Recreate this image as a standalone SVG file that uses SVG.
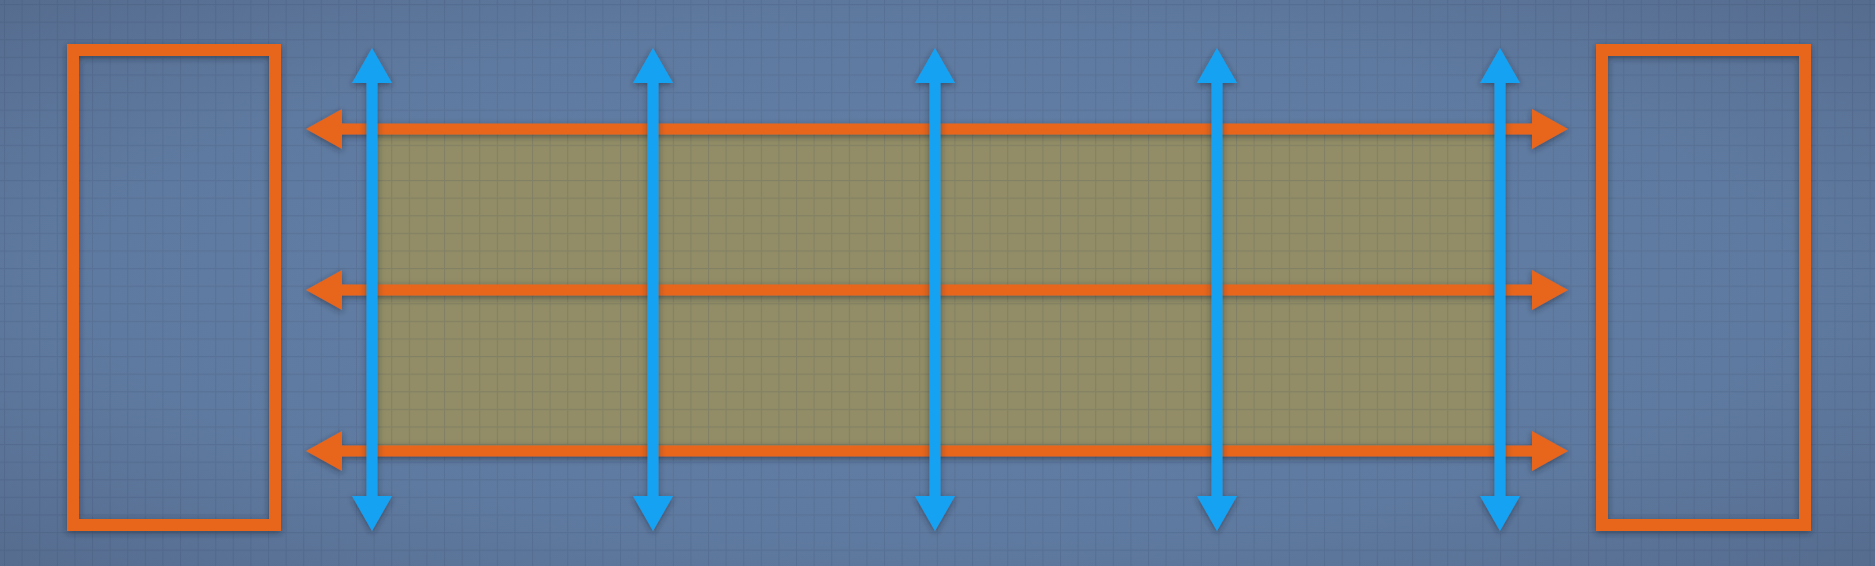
<svg xmlns="http://www.w3.org/2000/svg" width="1875" height="566" viewBox="0 0 1875 566">
<style>
.box{fill:none;stroke:#e8661d;stroke-width:12}
.oarrow{stroke:#e8661d;stroke-width:11;fill:none}
.barrow{stroke:#19a2f2;stroke-width:11;fill:none}
.sh{filter:url(#shadow)}
</style>
<defs>
<radialGradient id="bg" cx="50%" cy="50%" r="75%">
<stop offset="0" stop-color="#6581a8"/>
<stop offset="0.6" stop-color="#5f7aa0"/>
<stop offset="1" stop-color="#546a8c"/>
</radialGradient>
<pattern id="grid" width="17.6" height="17.6" patternUnits="userSpaceOnUse" x="4" y="4">
<path d="M0,0.5 H17.6 M0.5,0 V17.6" stroke="#2c3d5c" stroke-opacity="0.15" stroke-width="1.2" fill="none"/>
</pattern>
<filter id="shadow" x="-20%" y="-20%" width="140%" height="140%">
<feDropShadow dx="0" dy="2" stdDeviation="3" flood-color="#1c2738" flood-opacity="0.55"/>
</filter>
<marker id="oh" markerUnits="userSpaceOnUse" markerWidth="36" markerHeight="40" viewBox="0 0 36 40" refX="1" refY="20" orient="auto-start-reverse">
<path d="M0,0 L36,20 L0,40 z" fill="#e8661d"/>
</marker>
<marker id="bh" markerUnits="userSpaceOnUse" markerWidth="35" markerHeight="40" viewBox="0 0 35 40" refX="1" refY="20" orient="auto-start-reverse">
<path d="M0,0 L35,20 L0,40 z" fill="#19a2f2"/>
</marker>
</defs>
<rect width="1875" height="566" fill="url(#bg)"/>
<g id="center-region">
<rect class="sh" x="372" y="129" width="1128" height="322" fill="#928d66"/>
</g>
<rect width="1875" height="566" fill="url(#grid)"/>
<g id="left-box" class="sh">
<rect class="box" x="73" y="50" width="202" height="475"/>
</g>
<g id="right-box" class="sh">
<rect class="box" x="1602" y="50" width="203" height="475"/>
</g>
<g id="connectors">
<g class="sh">
<line class="oarrow" x1="341" y1="129" x2="1533" y2="129" marker-start="url(#oh)" marker-end="url(#oh)"/>
<line class="oarrow" x1="341" y1="290" x2="1533" y2="290" marker-start="url(#oh)" marker-end="url(#oh)"/>
<line class="oarrow" x1="341" y1="451" x2="1533" y2="451" marker-start="url(#oh)" marker-end="url(#oh)"/>
</g>
<g class="sh">
<line class="barrow" x1="372" y1="82" x2="372" y2="497" marker-start="url(#bh)" marker-end="url(#bh)"/>
<line class="barrow" x1="653" y1="82" x2="653" y2="497" marker-start="url(#bh)" marker-end="url(#bh)"/>
<line class="barrow" x1="935" y1="82" x2="935" y2="497" marker-start="url(#bh)" marker-end="url(#bh)"/>
<line class="barrow" x1="1217" y1="82" x2="1217" y2="497" marker-start="url(#bh)" marker-end="url(#bh)"/>
<line class="barrow" x1="1500" y1="82" x2="1500" y2="497" marker-start="url(#bh)" marker-end="url(#bh)"/>
</g>
</g>
</svg>
